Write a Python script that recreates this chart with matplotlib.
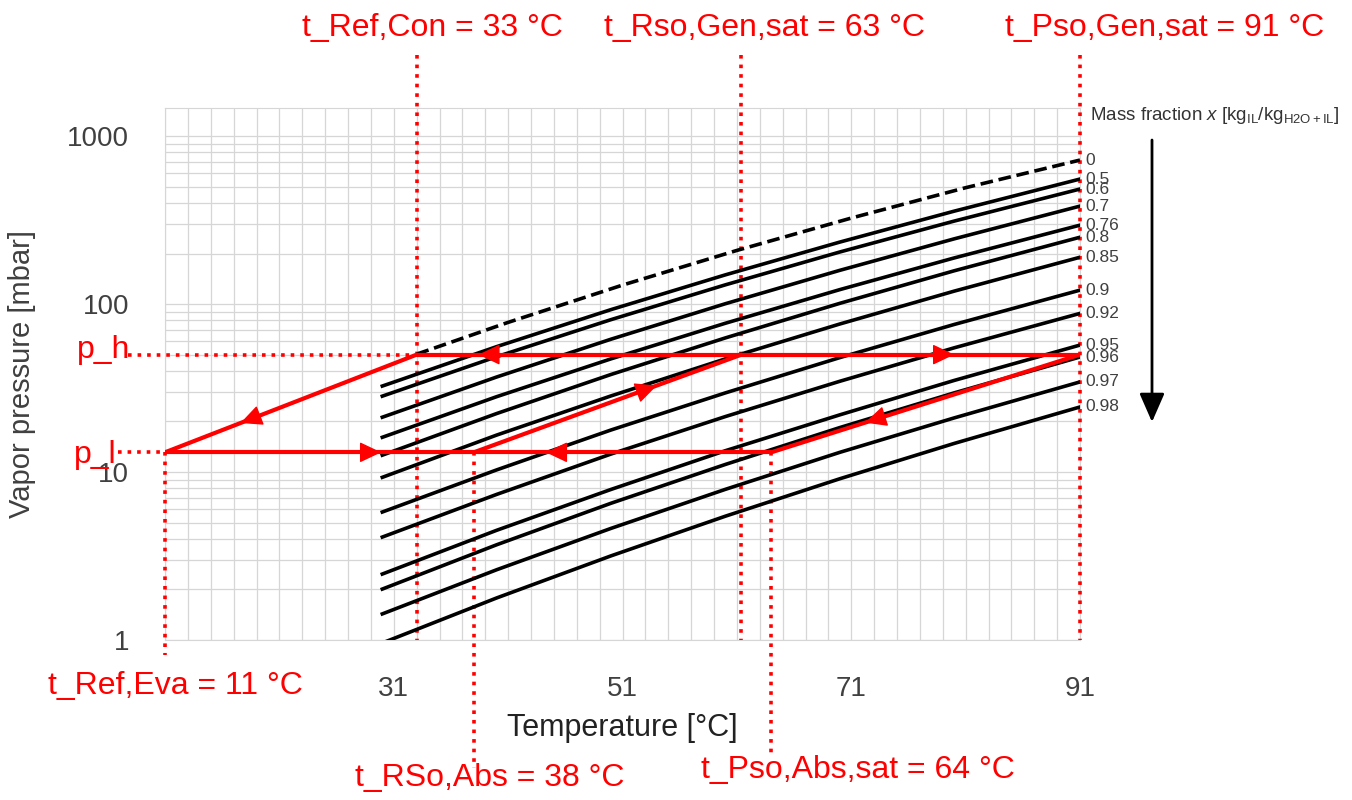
import numpy as np
import matplotlib
matplotlib.use('Agg')
import matplotlib.pyplot as plt
from matplotlib.ticker import FixedLocator, NullFormatter

plt.rcParams['font.family'] = ['Liberation Sans', 'DejaVu Sans']
plt.rcParams['mathtext.fontset'] = 'custom'
plt.rcParams['mathtext.rm'] = 'Liberation Sans'
plt.rcParams['mathtext.it'] = 'Liberation Sans:italic'

# isostere data (temperature in degC, pressure in mbar)
temps = [30, 40, 50, 60, 70, 80, 91]
p_050 = [32.5, 55.8, 92.7, 149.3, 233.9, 357.4, 555]
p_060 = [28.3, 48.6, 80.8, 130.2, 204.2, 311.9, 484]
p_070 = [21.2, 36.8, 61.8, 100.5, 158.8, 244.5, 383]
p_076 = [16.1, 28.1, 47.2, 76.9, 121.9, 188.2, 295]
p_080 = [12.6, 22.3, 38.1, 62.9, 101.0, 157.8, 250]
p_085 = [9.3, 16.6, 28.4, 47.2, 76.1, 119.4, 190]
p_090 = [5.78, 10.3, 17.8, 29.6, 48.0, 75.6, 121]
p_092 = [4.10, 7.36, 12.8, 21.4, 34.7, 54.9, 88]
p_095 = [2.47, 4.50, 7.88, 13.4, 21.9, 35.1, 57]
p_096 = [2.01, 3.69, 6.52, 11.1, 18.4, 29.6, 48.4]
p_097 = [1.43, 2.62, 4.62, 7.89, 13.1, 21.0, 34.4]
p_098 = [0.96, 1.78, 3.17, 5.46, 9.12, 14.8, 24.4]

# pure water (x = 0), dashed
water_t = [33, 41, 51, 61, 71, 81, 91]
water_p = [50.3, 77.8, 129.7, 208.6, 325.1, 492.9, 720]

curve_labels = ['0.5', '0.6', '0.7', '0.76', '0.8', '0.85', '0.9',
                '0.92', '0.95', '0.96', '0.97', '0.98']
curves = [p_050, p_060, p_070, p_076, p_080, p_085, p_090,
          p_092, p_095, p_096, p_097, p_098]

# cycle
p_h = 50.0
p_l = 13.1
t_ref_eva = 11
t_ref_con = 33
t_rso_abs = 38
t_rso_gen = 61.4
t_pso_abs = 64
t_pso_gen = 91

RED = '#ff0000'
GREY = '#404040'
YMIN, YMAX = 1, 1470

fig = plt.figure(figsize=(13.52, 8), dpi=100)
ax = fig.add_axes([165 / 1352, 160 / 800, 915 / 1352, 532 / 800])
ax.set_yscale('log')
ax.set_xlim(11, 91)
ax.set_ylim(YMIN, YMAX)

ax.set_xticks([31, 51, 71, 91])
ax.xaxis.set_minor_locator(FixedLocator(np.arange(11, 92, 2)))
ax.set_yticks([1, 10, 100, 1000], labels=['1', '10', '100', '1000'])
minor_y = [m * 10 ** e for e in range(0, 4) for m in range(2, 10)]
ax.yaxis.set_minor_locator(FixedLocator(minor_y))
ax.yaxis.set_minor_formatter(NullFormatter())
ax.grid(which='both', color='#d6d6d6', lw=0.9)
ax.set_axisbelow(True)
ax.tick_params(which='both', length=0, labelsize=20, labelcolor=GREY)
ax.tick_params(axis='y', pad=26)
ax.tick_params(axis='x', pad=26)
for s in ax.spines.values():
    s.set_color('#d6d6d6')

ax.set_xlabel('Temperature [°C]', fontsize=22, color='#222222', labelpad=8)
ax.set_ylabel('Vapor pressure [mbar]', fontsize=21, color=GREY, labelpad=22)


def frac_to_p(f):
    lo, hi = np.log10(YMIN), np.log10(YMAX)
    return 10 ** (lo + f * (hi - lo))


# red dotted guide lines
dot = dict(color=RED, ls=':', lw=2.6, clip_on=False, zorder=4)
ax.plot([t_ref_eva, t_ref_eva], [p_l, frac_to_p(-0.028)], **dot)
ax.plot([t_ref_con, t_ref_con], [frac_to_p(1.10), YMIN], **dot)
ax.plot([t_rso_abs, t_rso_abs], [p_l, frac_to_p(-0.24)], **dot)
ax.plot([t_rso_gen, t_rso_gen], [frac_to_p(1.10), YMIN], **dot)
ax.plot([t_pso_abs, t_pso_abs], [p_l, frac_to_p(-0.216)], **dot)
ax.plot([t_pso_gen, t_pso_gen], [frac_to_p(1.10), YMIN], **dot)
ax.plot([7.8, t_ref_con], [p_h, p_h], **dot)
ax.plot([6.9, t_ref_eva], [p_l, p_l], **dot)

# isosteres
ax.plot(water_t, water_p, color='black', lw=2.6, dashes=(3.5, 1.6), zorder=5)
for vals in curves:
    ax.plot(temps, vals, color='black', lw=2.6, zorder=5)

lbl_p = [water_p[-1]] + [c[-1] for c in curves]
for txt, p in zip(['0'] + curve_labels, lbl_p):
    ax.text(91.5, p, txt, fontsize=12.5, color=GREY, va='center', ha='left',
            clip_on=False)

# cycle lines
solid = dict(color=RED, lw=3, zorder=6, solid_capstyle='round')
ax.plot([t_ref_con, t_ref_eva], [p_h, p_l], **solid)
ax.plot([t_ref_eva, t_pso_abs], [p_l, p_l], **solid)
ax.plot([t_ref_con, t_pso_gen], [p_h, p_h], **solid)
ax.plot([t_rso_abs, t_rso_gen], [p_l, p_h], **solid)
ax.plot([t_pso_gen, t_pso_abs], [p_h, p_l], **solid)


def arrow_at(t_tip, t0, p0, t1, p1):
    def p_at(t):
        f = (t - t0) / (t1 - t0)
        return 10 ** (np.log10(p0) + f * (np.log10(p1) - np.log10(p0)))
    back = t_tip - 1.0 * np.sign(t1 - t0)
    ax.annotate('', xy=(t_tip, p_at(t_tip)), xytext=(back, p_at(back)),
                arrowprops=dict(arrowstyle='-|>,head_length=0.8,head_width=0.38',
                                color=RED, lw=1, shrinkA=0, shrinkB=0,
                                mutation_scale=17), zorder=7)


arrow_at(17.6, t_ref_con, p_h, t_ref_eva, p_l)
arrow_at(29.9, t_ref_eva, p_l, t_rso_abs, p_l)
arrow_at(44.3, t_pso_abs, p_l, t_rso_abs, p_l)
arrow_at(38.4, t_rso_gen, p_h, t_ref_con, p_h)
arrow_at(80.0, t_rso_gen, p_h, t_pso_gen, p_h)
arrow_at(54.0, t_rso_abs, p_l, t_rso_gen, p_h)
arrow_at(72.2, t_pso_gen, p_h, t_pso_abs, p_l)

# red annotations
rtxt = dict(color=RED, fontsize=23, ha='center', va='center')
fig.text(432 / 1352, 1 - 28 / 800, 't_Ref,Con = 33 °C', **rtxt)
fig.text(764 / 1352, 1 - 28 / 800, 't_Rso,Gen,sat = 63 °C', **rtxt)
fig.text(1165 / 1352, 1 - 28 / 800, 't_Pso,Gen,sat = 91 °C', **rtxt)
fig.text(175 / 1352, 1 - 686 / 800, 't_Ref,Eva = 11 °C', **rtxt)
fig.text(490 / 1352, 1 - 778 / 800, 't_RSo,Abs = 38 °C', **rtxt)
fig.text(858 / 1352, 1 - 770 / 800, 't_Pso,Abs,sat = 64 °C', **rtxt)
fig.text(130 / 1352, 1 - 350 / 800, 'p_h', color=RED, fontsize=23,
         ha='right', va='center')
fig.text(117 / 1352, 1 - 455 / 800, 'p_l', color=RED, fontsize=23,
         ha='right', va='center')

# mass fraction legend
fig.text(1090 / 1352, 1 - 116 / 800,
         r'Mass fraction $x$ [kg$_{\mathrm{IL}}$/kg$_{\mathrm{H2O+IL}}$]',
         fontsize=13.5, color='#333333', ha='left', va='center')
ax.annotate('', xy=(1152 / 1352, 1 - 422 / 800), xytext=(1152 / 1352, 1 - 140 / 800),
            xycoords='figure fraction', textcoords='figure fraction',
            arrowprops=dict(arrowstyle='-|>,head_length=0.8,head_width=0.35',
                            color='black', lw=2, shrinkA=0, shrinkB=0,
                            mutation_scale=22))

fig.savefig('out.png', dpi=100)
